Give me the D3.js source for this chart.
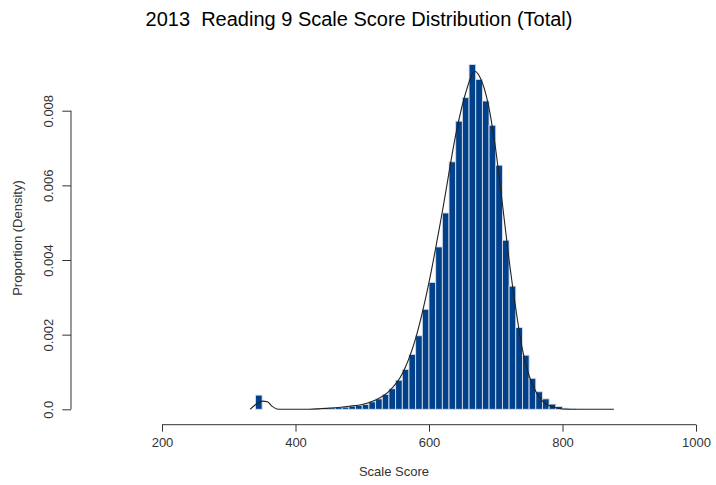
<!DOCTYPE html>
<html><head><meta charset="utf-8">
<script src="https://cdn.jsdelivr.net/npm/d3@7"></script>
<style>body{margin:0;background:#fff}svg{display:block}text{font-family:"Liberation Sans",Arial,sans-serif}</style>
</head><body><svg id="c" width="716" height="485"></svg>
<script>
const title = "2013  Reading 9 Scale Score Distribution (Total)";
const xLabel = "Scale Score";
const yLabel = "Proportion (Density)";
const xTicks = [200, 400, 600, 800, 1000];
const yTicks = [0, 0.002, 0.004, 0.006, 0.008];
const yTickLabels = ["0.0", "0.002", "0.004", "0.006", "0.008"];
const binWidth = 10;
const binStarts = [340, 430, 440, 450, 460, 470, 480, 490, 500, 510, 520, 530, 540, 550, 560, 570, 580, 590, 600, 610, 620, 630, 640, 650, 660, 670, 680, 690, 700, 710, 720, 730, 740, 750, 760, 770, 780, 790, 800, 810];
const binDensity = [0.00038, 0.00002, 0.00003, 0.00004, 0.00005, 0.00006, 0.00008, 0.0001, 0.00013, 0.0002, 0.00028, 0.0004, 0.00055, 0.00078, 0.00107, 0.00147, 0.00197, 0.00268, 0.0034, 0.00435, 0.00526, 0.00663, 0.00772, 0.00835, 0.00924, 0.00884, 0.00826, 0.00761, 0.00654, 0.00453, 0.0033, 0.00219, 0.00145, 0.00083, 0.00047, 0.00028, 0.00014, 0.000075, 0.00003, 0.00001];
const curveX = [332, 340, 350, 358, 365, 372, 380, 420, 440, 460, 480, 500, 520, 540, 560, 580, 600, 620, 641, 654, 669, 676, 689, 699, 710, 720, 730, 740, 750, 760, 770, 780, 790, 800, 820, 877];
const curveY = [0, 0.00012, 0.00022, 0.0002, 0.00008, 0.00001, 0, 0, 0.00002, 0.00004, 0.00008, 0.00013, 0.00025, 0.00048, 0.00095, 0.0019, 0.0034, 0.0053, 0.00744, 0.00842, 0.00905, 0.00891, 0.00815, 0.00708, 0.0055, 0.004, 0.0027, 0.0016, 0.0009, 0.00048, 0.00022, 0.0001, 0.00004, 0.00001, 0, 0];

const svg = d3.select("#c");
const x = d3.scaleLinear().domain([200, 1000]).range([162, 696]);
const y = d3.scaleLinear().domain([0, 0.008]).range([409.3, 110.7]);

svg.append("text").attr("x", 359).attr("y", 26).attr("text-anchor", "middle")
  .attr("font-size", 20).attr("fill", "#000").style("white-space", "pre")
  .attr("xml:space", "preserve").text(title);

const bars = binStarts.map((b, i) => ({b, d: binDensity[i]}));
svg.append("g").selectAll("rect").data(bars).join("rect")
  .attr("x", d => x(d.b)).attr("width", d => x(d.b + binWidth) - x(d.b))
  .attr("y", d => y(d.d)).attr("height", d => y(0) - y(d.d))
  .attr("fill", "#01408a").attr("stroke", "#d6dfec").attr("stroke-width", 0.9);

const pts = curveX.map((v, i) => [v, curveY[i]]);
svg.append("path").datum(pts)
  .attr("d", d3.line().x(d => x(d[0])).y(d => y(d[1])).curve(d3.curveMonotoneX))
  .attr("fill", "none").attr("stroke", "#222").attr("stroke-width", 1.1);

const xa = svg.append("g").attr("transform", "translate(0,424.7)")
  .call(d3.axisBottom(x).tickValues(xTicks).tickSize(7).tickPadding(6).tickFormat(d3.format("d")));
const ya = svg.append("g").attr("transform", "translate(71,0)")
  .call(d3.axisLeft(y).tickValues(yTicks).tickSize(8.7).tickFormat((d, i) => yTickLabels[i]));
[xa, ya].forEach(a => {
  a.select(".domain").attr("stroke", "#333");
  a.selectAll(".tick line").attr("stroke", "#333");
  a.selectAll("text").attr("fill", "#333").attr("font-size", 13).attr("font-family", "Liberation Sans, Arial, sans-serif");
});
xa.select(".domain").attr("d", `M${x(200)},0H${x(1000)}`);
ya.select(".domain").attr("d", `M0,${y(0)}V${y(0.008)}`);
ya.selectAll(".tick text").attr("text-anchor", "middle").attr("dy", null)
  .attr("transform", "rotate(-90)")
  .each(function(d){ d3.select(this).attr("x", 0).attr("y", -18); });

svg.append("text").attr("x", 394).attr("y", 476).attr("text-anchor", "middle")
  .attr("font-size", 13).attr("fill", "#333").text(xLabel);
svg.append("text").attr("transform", "translate(22,238) rotate(-90)").attr("text-anchor", "middle")
  .attr("font-size", 13).attr("fill", "#333").text(yLabel);
</script></body></html>
